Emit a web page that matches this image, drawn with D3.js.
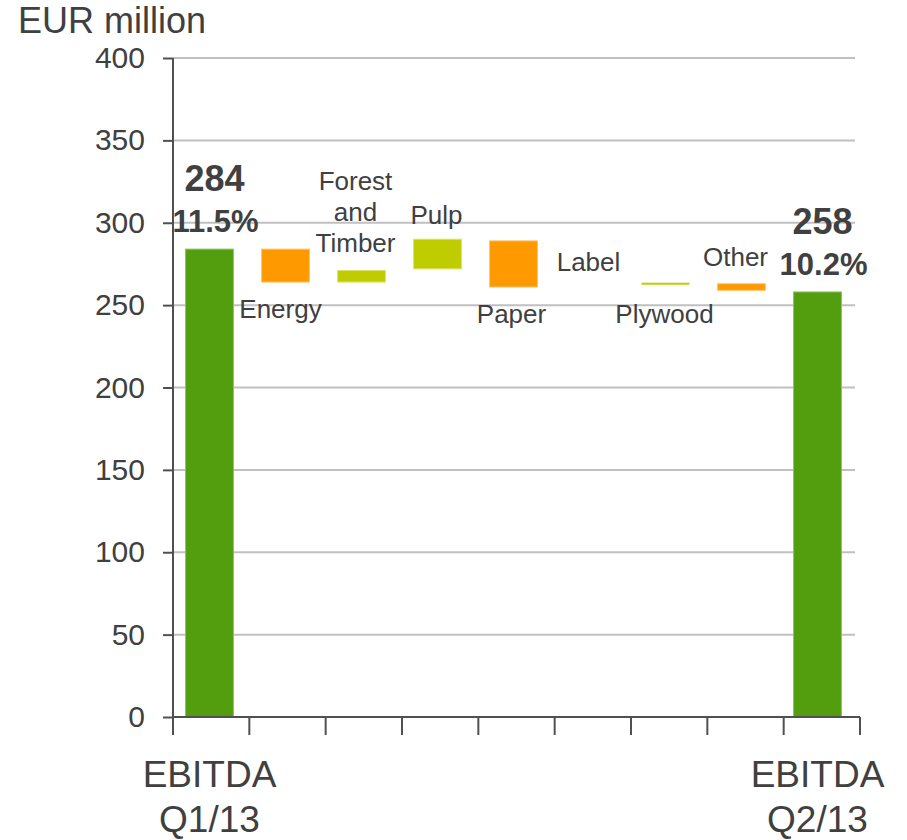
<!DOCTYPE html>
<html>
<head>
<meta charset="utf-8">
<script src="https://cdn.jsdelivr.net/npm/d3@7"></script>
<style>
  body { margin: 0; background: #fff; }
  svg { font-family: "Liberation Sans", Arial, sans-serif; }
</style>
</head>
<body>
<div id="chart"></div>
<script>
// categories along the x axis (blank ones carry no axis text)
const categories = ["Q1", "Energy", "Forest", "Pulp", "Paper", "Label", "Plywood", "Other", "Q2"];
// where each bar starts and ends, EUR million
const barStart = [0, 284, 264, 272, 289, 261, 263.6, 263, 0];
const barEnd = [284, 264, 271, 290, 261, 261, 263, 259, 258];
// bar kind: total, negative, positive
const barKind = ["total", "neg", "pos", "pos", "neg", "none", "pos", "neg", "total"];
const categoryLabels = ["", "Energy", "Forest\nand\nTimber", "Pulp", "Paper", "Label", "Plywood", "Other", ""];
const totalValues = ["284", "", "", "", "", "", "", "", "258"];
const totalMargins = ["11.5%", "", "", "", "", "", "", "", "10.2%"];
const bottomLabels = [["EBITDA", "Q1/13"], [], [], [], [], [], [], [], ["EBITDA", "Q2/13"]];
const yTicks = [0, 50, 100, 150, 200, 250, 300, 350, 400];

const width = 907, height = 840;
const colors = { total: "#529e0e", neg: "#ff9900", pos: "#bfcc00" };
const borders = { total: "#8cc45a", neg: "#ffc46a", pos: "#dde36a" };
const textColor = "#404040";

const svg = d3.select("#chart").append("svg")
    .attr("width", width)
    .attr("height", height);

const y = d3.scaleLinear().domain([0, 400]).range([717, 58]);
const xAxis = d3.scaleBand().domain(categories).range([173, 860]);
const xBar = d3.scaleBand().domain(categories).range([171.5, 855.5])
    .paddingInner(0.37).paddingOuter(0.185);
const cx = i => xBar(categories[i]) + xBar.bandwidth() / 2;

// gridlines
svg.append("g").selectAll("line")
    .data(yTicks.filter(t => t > 0))
    .enter().append("line")
    .attr("x1", 173).attr("x2", 855)
    .attr("y1", d => y(d)).attr("y2", d => y(d))
    .attr("stroke", "#c0c0c0")
    .attr("stroke-width", 2);

// bars
const idx = d3.range(categories.length).filter(i => barKind[i] !== "none");
svg.append("g").selectAll("rect")
    .data(idx)
    .enter().append("rect")
    .attr("x", i => xBar(categories[i]))
    .attr("width", xBar.bandwidth())
    .attr("y", i => y(Math.max(barStart[i], barEnd[i])))
    .attr("height", i => Math.max(2, Math.abs(y(barStart[i]) - y(barEnd[i]))))
    .attr("fill", i => colors[barKind[i]])
    .attr("stroke", i => borders[barKind[i]])
    .attr("stroke-width", i => Math.abs(y(barStart[i]) - y(barEnd[i])) > 4 ? 1 : 0);

// y axis
const yAxisG = svg.append("g")
    .attr("transform", "translate(173,0)")
    .call(d3.axisLeft(y).tickValues(yTicks).tickSize(10).tickPadding(18));
yAxisG.select(".domain").attr("stroke", "#505050").attr("stroke-width", 2)
    .attr("d", `M0,${y(400)}V${y(0)}`);
yAxisG.selectAll(".tick line").attr("stroke", "#505050").attr("stroke-width", 2);
yAxisG.selectAll(".tick text")
    .attr("fill", textColor)
    .style("font-size", "30px")
    .style("font-family", "'Liberation Sans', Arial, sans-serif");

// x axis: ticks at band edges
const xG = svg.append("g").attr("transform", `translate(0,${y(0)})`);
xG.append("line")
    .attr("x1", 173).attr("x2", 860)
    .attr("stroke", "#505050").attr("stroke-width", 2);
xG.selectAll(".xt")
    .data(categories.map(c => xAxis(c)).concat([xAxis.range()[1]]))
    .enter().append("line")
    .attr("class", "xt")
    .attr("x1", d => d).attr("x2", d => d)
    .attr("y1", 0).attr("y2", 18)
    .attr("stroke", "#505050").attr("stroke-width", 2);

// bottom category labels
categories.forEach((c, i) => {
    bottomLabels[i].forEach((t, k) => {
        svg.append("text")
            .attr("x", cx(i))
            .attr("y", 787 + k * 45)
            .attr("text-anchor", "middle")
            .attr("fill", textColor)
            .style("font-size", "37px")
            .text(t);
    });
});

// totals above the EBITDA bars
categories.forEach((c, i) => {
    if (!totalValues[i]) return;
    const top = y(barEnd[i]);
    svg.append("text")
        .attr("x", cx(i) + 5).attr("y", top - 58)
        .attr("text-anchor", "middle").attr("fill", textColor)
        .style("font-size", "36px").style("font-weight", "bold")
        .text(totalValues[i]);
    svg.append("text")
        .attr("x", cx(i) + 6).attr("y", top - 17)
        .attr("text-anchor", "middle").attr("fill", textColor)
        .style("font-size", "31px").style("font-weight", "bold")
        .text(totalMargins[i]);
});

// bridge labels: above or below the bar
const labelPos = {
    Energy: { side: "below", dx: -5, dy: 36 },
    Forest: { side: "above", dx: -6, dy: -19 },
    Pulp: { side: "above", dx: -1, dy: -15 },
    Paper: { side: "below", dx: -2, dy: 36 },
    Label: { side: "above", dx: -1, dy: -16 },
    Plywood: { side: "below", dx: -1, dy: 39 },
    Other: { side: "above", dx: -6, dy: -18 }
};
categories.forEach((c, i) => {
    const lp = labelPos[c];
    if (!lp) return;
    const lines = categoryLabels[i].split("\n");
    const top = y(Math.max(barStart[i], barEnd[i]));
    const bottom = y(Math.min(barStart[i], barEnd[i]));
    const lh = 31;
    const base = lp.side === "below" ? bottom + lp.dy : top + lp.dy - (lines.length - 1) * lh;
    lines.forEach((t, k) => {
        svg.append("text")
            .attr("x", cx(i) + lp.dx)
            .attr("y", base + k * lh)
            .attr("text-anchor", "middle")
            .attr("fill", textColor)
            .style("font-size", "26px")
            .text(t);
    });
});

// unit label
svg.append("text")
    .attr("x", 18).attr("y", 33)
    .attr("fill", textColor)
    .style("font-size", "36px")
    .text("EUR million");
</script>
</body>
</html>
